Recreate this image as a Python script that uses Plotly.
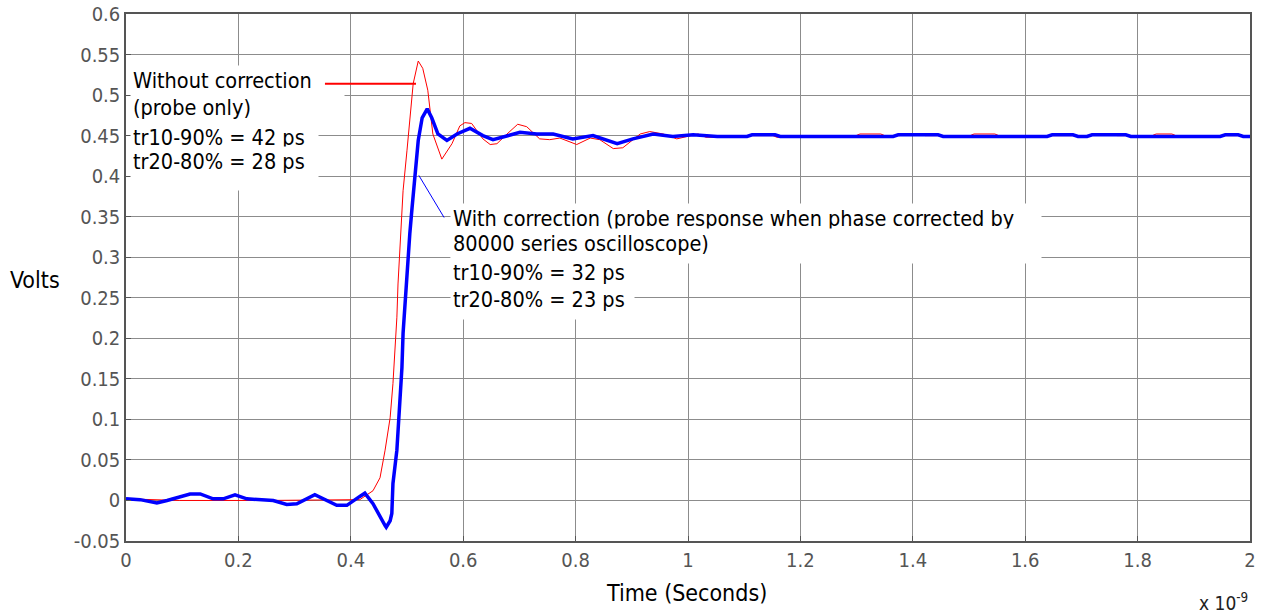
import plotly.graph_objects as go

# ---------------- data (time in units of 1e-9 s, voltage in V) ----------------
t_with = [0.000, 0.025, 0.055, 0.073, 0.114, 0.132, 0.155, 0.173, 0.194, 0.215,
          0.262, 0.286, 0.304, 0.336, 0.375, 0.393, 0.416, 0.425, 0.4395, 0.452,
          0.461, 0.463, 0.470, 0.473, 0.475, 0.482, 0.4875, 0.491, 0.493, 0.4965,
          0.500, 0.505, 0.509, 0.514, 0.520, 0.527, 0.536, 0.544, 0.555, 0.571,
          0.589, 0.612, 0.635, 0.653, 0.678, 0.701, 0.731, 0.760, 0.795, 0.831,
          0.874, 0.902, 0.938, 0.973, 1.009, 1.052,
          1.105, 1.114, 1.155, 1.164, 1.365, 1.374, 1.445, 1.454, 1.639, 1.648,
          1.685, 1.694, 1.710, 1.719, 1.779, 1.788, 1.947, 1.956, 1.979, 1.988, 2.000]
v_with = [0.002, 0.001, -0.003, 0.000, 0.008, 0.008, 0.002, 0.002, 0.007, 0.002,
          0.000, -0.005, -0.004, 0.007, -0.006, -0.006, 0.005, 0.009, -0.004, -0.021,
          -0.031, -0.033, -0.025, -0.016, 0.021, 0.062, 0.123, 0.164, 0.206, 0.247,
          0.287, 0.329, 0.361, 0.403, 0.444, 0.472, 0.483, 0.472, 0.452, 0.444,
          0.452, 0.459, 0.450, 0.445, 0.450, 0.454, 0.452, 0.452, 0.446, 0.450,
          0.440, 0.446, 0.452, 0.449, 0.451, 0.449,
          0.449, 0.451, 0.451, 0.449, 0.449, 0.451, 0.451, 0.449, 0.449, 0.451,
          0.451, 0.449, 0.449, 0.451, 0.451, 0.449, 0.449, 0.451, 0.451, 0.449, 0.449]

t_without = [0.000, 0.040, 0.095, 0.250, 0.416, 0.4395, 0.452, 0.461, 0.470, 0.475,
             0.479, 0.482, 0.484, 0.4875, 0.491, 0.493, 0.500, 0.505, 0.511, 0.520,
             0.528, 0.537, 0.546, 0.562, 0.580, 0.594, 0.603, 0.615, 0.635, 0.648,
             0.660, 0.678, 0.697, 0.713, 0.736, 0.754, 0.772, 0.802, 0.826, 0.843,
             0.867, 0.884, 0.915, 0.932, 0.956, 0.980, 1.005, 1.018, 1.025,
             1.032, 1.073, 1.080, 1.151, 1.158, 1.201, 1.208, 1.299, 1.306, 1.343,
             1.350, 1.377, 1.384, 1.415, 1.422, 1.502, 1.509, 1.546, 1.553, 1.712,
             1.719, 1.756, 1.763, 1.826, 1.833, 1.861, 1.868, 2.000]
v_without = [0.002, 0.001, 0.000, 0.000, 0.001, 0.012, 0.028, 0.062, 0.102, 0.144,
             0.185, 0.226, 0.267, 0.308, 0.349, 0.382, 0.432, 0.473, 0.514, 0.542,
             0.533, 0.506, 0.452, 0.421, 0.440, 0.462, 0.466, 0.465, 0.446, 0.439,
             0.440, 0.452, 0.464, 0.461, 0.446, 0.445, 0.447, 0.439, 0.447, 0.445,
             0.434, 0.435, 0.452, 0.455, 0.452, 0.446, 0.450, 0.452, 0.450,
             0.448, 0.448, 0.450, 0.450, 0.448, 0.448, 0.450, 0.450, 0.452, 0.452,
             0.450, 0.450, 0.452, 0.452, 0.450, 0.450, 0.452, 0.452, 0.450, 0.450,
             0.452, 0.452, 0.450, 0.450, 0.452, 0.452, 0.450, 0.450]

x_tickvals = [0, 0.2, 0.4, 0.6, 0.8, 1.0, 1.2, 1.4, 1.6, 1.8, 2.0]
x_ticktext = ["0", "0.2", "0.4", "0.6", "0.8", "1", "1.2", "1.4", "1.6", "1.8", "2"]
y_tickvals = [-0.05, 0, 0.05, 0.1, 0.15, 0.2, 0.25, 0.3, 0.35, 0.4, 0.45, 0.5, 0.55, 0.6]
y_ticktext = ["-0.05", "0", "0.05", "0.1", "0.15", "0.2", "0.25", "0.3", "0.35",
              "0.4", "0.45", "0.5", "0.55", "0.6"]

FONT = "DejaVu Sans Condensed, Liberation Sans Narrow, Arial Narrow, sans-serif"

W, H = 1263, 616
ML, MR, MT, MB = 126, 13, 14, 75
PW, PH = W - ML - MR, H - MT - MB

fig = go.Figure()
fig.add_trace(go.Scatter(x=t_without, y=v_without, mode="lines",
                         line=dict(color="#ff0000", width=1), name="Without correction"))
fig.add_trace(go.Scatter(x=t_with, y=v_with, mode="lines",
                         line=dict(color="#0000ff", width=3.5), name="With correction"))

# leader lines of the labels
fig.add_shape(type="line", x0=0.354, y0=0.514, x1=0.516, y1=0.514,
              line=dict(color="#ff0000", width=2), layer="above")
fig.add_shape(type="line", x0=0.521, y0=0.401, x1=0.566, y1=0.349,
              line=dict(color="#0000ff", width=1), layer="above")


def line_box(x, y, text, w, h):
    fig.add_annotation(x=x, y=y, xref="x", yref="y", text=text, showarrow=False,
                       xanchor="left", yanchor="top", align="left", valign="top",
                       width=w, height=h, bgcolor="white", borderpad=2,
                       font=dict(family=FONT, size=21.5, color="black"))


# label for the red trace
line_box(0.007, 0.5365, "Without correction", 188, 24)
line_box(0.007, 0.5044, "(probe only)", 209, 28)
line_box(0.007, 0.4674, "tr10-90% = 42 ps", 183, 22)
line_box(0.007, 0.4378, "tr20-80% = 28 ps", 183, 39)
# label for the blue trace
line_box(0.577, 0.3663, "With correction (probe response when phase corrected by", 586, 23)
line_box(0.577, 0.3355, "80000 series oscilloscope)", 586, 30)
line_box(0.577, 0.2997, "tr10-90% = 32 ps", 179, 24)
line_box(0.577, 0.2664, "tr20-80% = 23 ps", 179, 30)


def px_note(px, py, text, size, color="black"):
    fig.add_annotation(xref="paper", yref="paper", x=(px - ML) / PW, y=(H - MB - py) / PH,
                       xanchor="center", yanchor="middle", text=text, showarrow=False,
                       font=dict(family=FONT, size=size, color=color))


px_note(35, 280, "Volts", 23)
px_note(686, 593, "Time (Seconds)", 23)
px_note(1223, 602, "x 10<sup>-9</sup>", 19, "#222222")

axis_common = dict(showgrid=True, gridcolor="#8c8c8c", gridwidth=1,
                   showline=True, linecolor="#555555", linewidth=1.5, mirror=True,
                   ticks="inside", ticklen=5, tickcolor="#555555", zeroline=False,
                   tickfont=dict(family=FONT, size=20, color="#555555"))

fig.update_xaxes(range=[0, 2], tickvals=x_tickvals, ticktext=x_ticktext, **axis_common)
fig.update_yaxes(range=[-0.05, 0.6], tickvals=y_tickvals, ticktext=y_ticktext, **axis_common)

fig.update_layout(width=W, height=H, showlegend=False, autosize=False,
                  margin=dict(l=ML, r=MR, t=MT, b=MB, autoexpand=False),
                  plot_bgcolor="white", paper_bgcolor="white",
                  font=dict(family=FONT))

fig.write_html("out.html", config={"displayModeBar": False},
               post_script="document.body.style.margin='0px';document.body.style.overflow='hidden';")
